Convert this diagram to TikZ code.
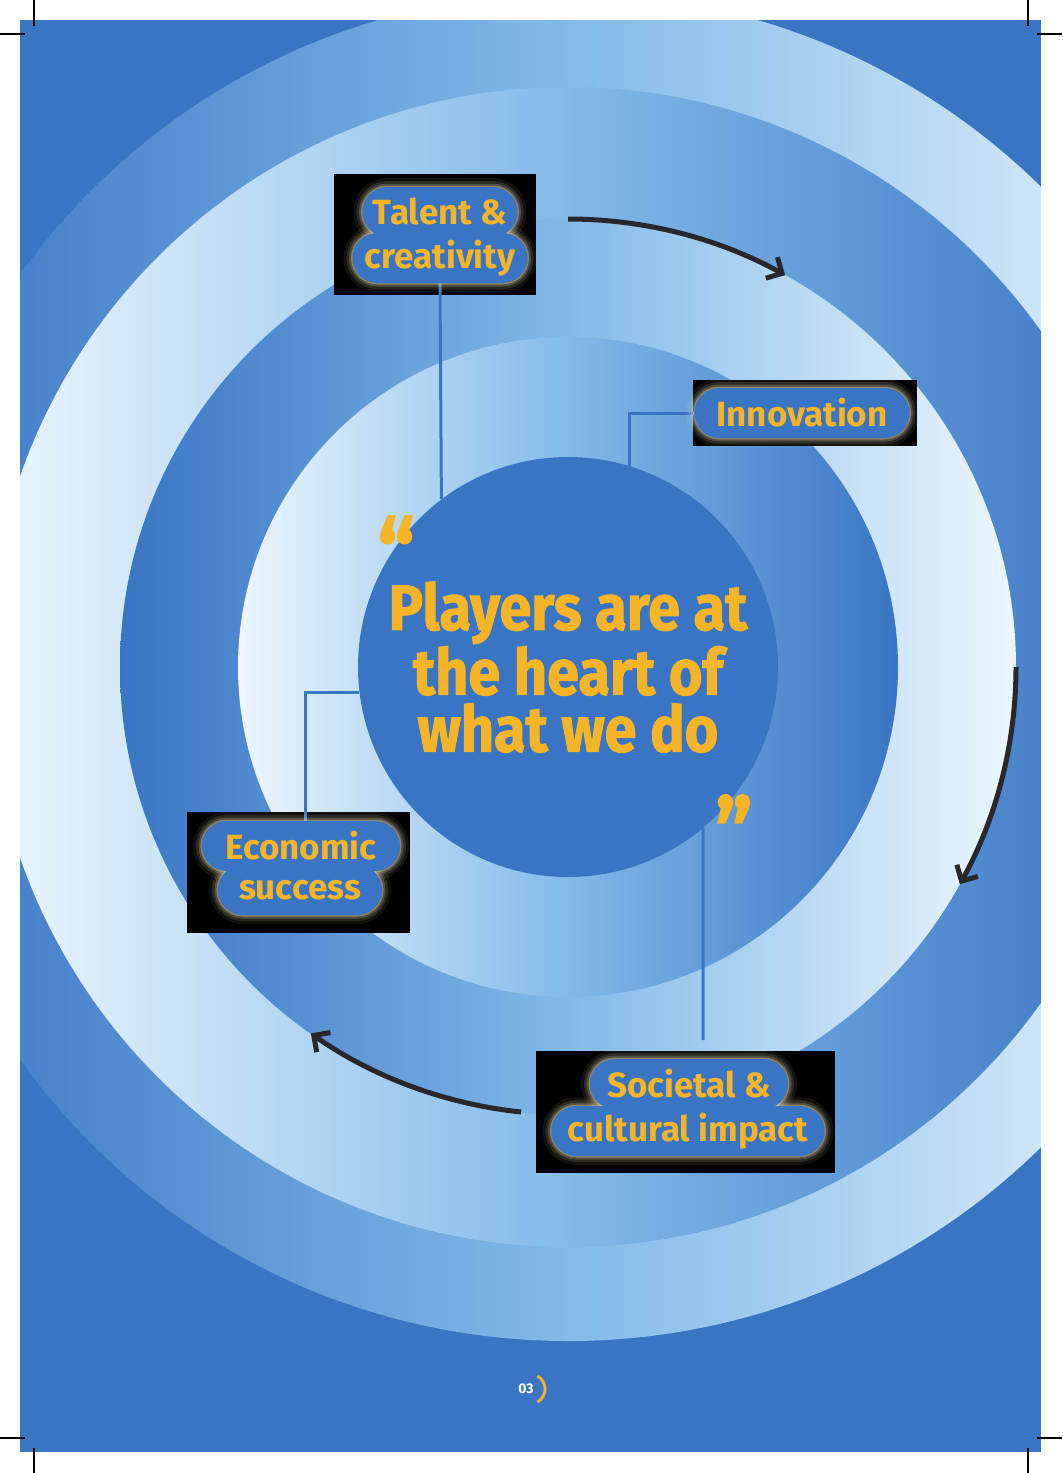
\documentclass[tikz,border=0pt]{standalone}
\usepackage{fontspec}
\setmainfont{Fira Sans}
\newfontfamily\labelfont{Fira Sans}
\newfontfamily\heavyfont{Fira Sans}[FakeStretch=0.9, BoldFeatures={FakeBold=1.5}]
\usetikzlibrary{positioning,shapes.misc,arrows.meta}

\definecolor{pageblue}{RGB}{58,117,196}
\definecolor{ringwhite}{RGB}{236,246,253}
\definecolor{ringmid}{RGB}{130,186,233}
\definecolor{gold}{RGB}{247,180,38}
\definecolor{glowcol}{RGB}{240,228,186}
\definecolor{arrowgrey}{RGB}{40,40,44}

\pgfdeclarelayer{glowing}
\pgfdeclarelayer{front}
\pgfsetlayers{main,glowing,front}

\tikzset{
  pill/.style={rounded rectangle, inner sep=0pt, minimum height=25pt,
    fill=pageblue, text=gold, font=\labelfont\bfseries\fontsize{17.5}{19}\selectfont},
  pill glow/.style={rounded rectangle, inner sep=0pt, minimum height=25pt,
    draw=glowcol, line width=1.5pt, draw opacity=0.35,
    preaction={draw=glowcol, line width=9pt, draw opacity=0.08},
    preaction={draw=glowcol, line width=6pt, draw opacity=0.12},
    preaction={draw=glowcol, line width=3.5pt, draw opacity=0.2}},
  blackbox/.style 2 args={fill=black, inner sep=0pt,
    minimum width=#1*0.5pt, minimum height=#2*0.5pt},
  heart/.style={circle, fill=pageblue, inner sep=0pt, minimum size=210pt,
    text=gold, align=center, font=\heavyfont\bfseries\fontsize{32}{28.5}\selectfont},
  quote/.style={text=gold, inner sep=0pt, font=\heavyfont\bfseries\fontsize{46}{46}\selectfont},
  link/.style={draw=pageblue, line width=1.5pt},
  cycle arrow/.style={draw=arrowgrey, line width=2.5pt,
    -{Straight Barb[length=6pt,width=12pt]}},
  cropmark/.style={draw=black, line width=0.6pt}
}

% label bubble: name, position, width (px), text
\newcommand{\labelpill}[4]{%
  \begin{pgfonlayer}{glowing}
    \node[pill glow, minimum width=#3*0.5pt] at (#2) {};
  \end{pgfonlayer}
  \begin{pgfonlayer}{front}
    \node[pill, minimum width=#3*0.5pt] (#1) at (#2) {#4};
  \end{pgfonlayer}}

\begin{document}
\begin{tikzpicture}[x=0.5pt,y=-0.5pt]
\useasboundingbox (0,0) rectangle (1062,1473);

% page and rings
\begin{scope}
  \clip (20,20) rectangle (1041,1452);
  \fill[pageblue] (20,20) rectangle (1041,1452);
  \foreach \r/\lc/\rc in {674/pageblue/ringwhite, 580/ringwhite/pageblue,
                          448/pageblue/ringwhite, 330/ringwhite/pageblue}
    \shade[left color=\lc, right color=\rc, middle color=ringmid]
      (568,667) circle[radius=\r];
\end{scope}

% crop marks
\draw[cropmark] (34,0) -- (34,26) (0,34) -- (25,34);
\draw[cropmark] (1028,0) -- (1028,26) (1037,34) -- (1062,34);
\draw[cropmark] (34,1448) -- (34,1473) (0,1438) -- (25,1438);
\draw[cropmark] (1028,1448) -- (1028,1473) (1037,1438) -- (1062,1438);

% centre
\node[heart] (heart) at (568,667) {Players are at\\the heart of\\what we do};
\node[quote] (openq) at (396,551) {“};
\node[quote] (closeq) at (734,830) {”};

% black boxes
\node[blackbox={202}{121}] (talentbox) at (435,234.5) {};
\node[blackbox={224}{66}] (innovationbox) at (805,413) {};
\node[blackbox={223}{121}] (economicbox) at (298.5,872.5) {};
\node[blackbox={299}{122}] (societalbox) at (685.5,1112) {};

% label bubbles
\labelpill{talent1}{440,212}{155}{Talent \&}
\labelpill{talent2}{440,258}{175}{creativity}
\labelpill{innovation}{802,413}{215}{Innovation}
\labelpill{economic1}{301,846}{198}{Economic}
\labelpill{economic2}{300,890}{164}{success}
\labelpill{societal1}{689,1084}{198}{Societal \&}
\labelpill{societal2}{688,1131}{273}{cultural impact}

% connectors
\coordinate (societalend) at (703,1040);
\draw[link] (talent2.south) -- (heart.127.5);
\draw[link] (innovation.west) -| (heart.73.4);
\draw[link] ([xshift=2pt]economic1.north) |- (heart.187.7);
\draw[link] (societalend) -- (heart.310);

% cycle arrows
\coordinate (cycleA) at (568,219);
\coordinate (cycleB) at (1016,667);
\coordinate (cycleC) at (521,1112);
\draw[cycle arrow] (cycleA) arc[start angle=-90, end angle=-61, radius=448];
\draw[cycle arrow] (cycleB) arc[start angle=0, end angle=29, radius=448];
\draw[cycle arrow] (cycleC) arc[start angle=96, end angle=125, radius=448];

% page number
\node[text=white, font=\labelfont\bfseries\fontsize{7}{8}\selectfont] (pageno) at (526,1389) {03};
\coordinate (pagearc) at (530,1389);
\draw[gold, line width=1.4pt] (pagearc) ++(-60:15) arc[start angle=-60, end angle=60, radius=15];
\end{tikzpicture}
\end{document}
